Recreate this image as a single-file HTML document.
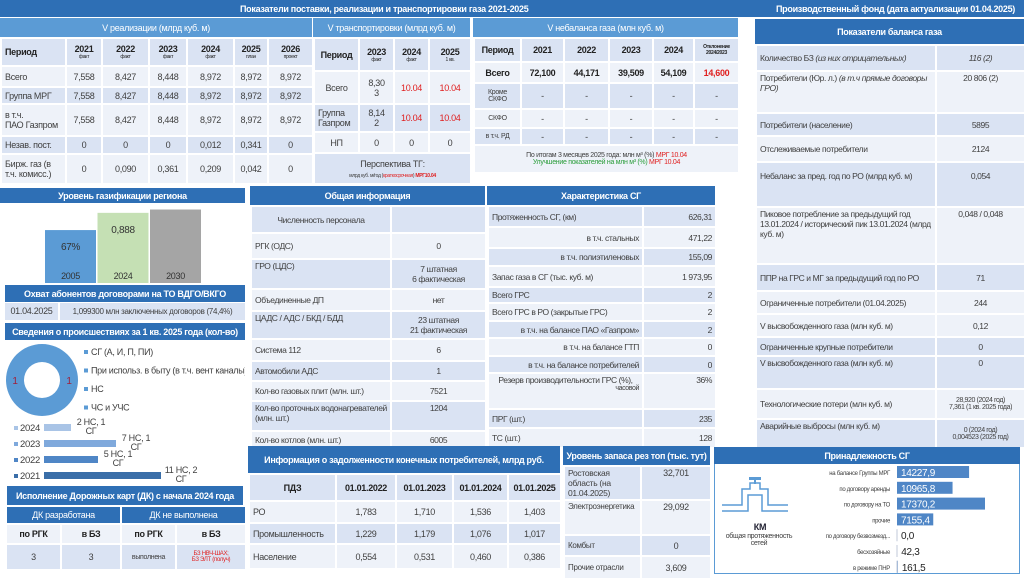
<!DOCTYPE html>
<html><head><meta charset="utf-8">
<style>
*{box-sizing:border-box;margin:0;padding:0}
body{width:1024px;height:574px;overflow:hidden;background:#fff;font-family:"Liberation Sans","Noto Sans CJK SC",sans-serif;font-size:9px;color:#404040;position:relative;letter-spacing:-0.3px}
.abs{position:absolute}
.hd{position:absolute;background:#2e6fb5;color:#fff;text-align:center;font-weight:bold;display:flex;align-items:center;justify-content:center}
.hl{background:#5b9bd5;font-weight:normal}
table{position:absolute;border-collapse:collapse;table-layout:fixed}
td{border:2px solid #fff;padding:1px 3px;vertical-align:middle;text-align:center;overflow:hidden}
.a td{background:#dae3f3}
.b td{background:#eef2f9}
td.l{text-align:left}
td.r{text-align:right}
.red,.bold td.red{color:#e02020}
.grn{color:#2a9d3a}
.bold td{font-weight:bold;color:#222}
small{font-size:5px;display:block;font-weight:normal}
.sm td{font-size:8.5px;letter-spacing:-0.4px}
</style></head><body>

<div class="hd" style="left:0;top:0;width:1024px;height:17px;background:#2e6fb5;justify-content:flex-start">
<span style="position:absolute;left:240px">Показатели поставки, реализации и транспортировки газа 2021-2025</span>
<span style="position:absolute;left:776px">Производственный фонд (дата актуализации  01.04.2025)</span>
</div>

<div class="hd hl" style="left:0;top:18px;width:312px;height:19px">V реализации (млрд куб. м)</div>
<table style="left:0;top:37px;width:312px">
<colgroup><col style="width:65px"><col style="width:36px"><col style="width:47px"><col style="width:38px"><col style="width:47px"><col style="width:34px"><col style="width:45px"></colgroup>
<tr class="a bold" style="height:28px"><td class="l">Период</td><td>2021<small>факт</small></td><td>2022<small>факт</small></td><td>2023<small>факт</small></td><td>2024<small>факт</small></td><td>2025<small>план</small></td><td>2026<small>проект</small></td></tr>
<tr class="b" style="height:21px"><td class="l">Всего</td><td>7,558</td><td>8,427</td><td>8,448</td><td>8,972</td><td>8,972</td><td>8,972</td></tr>
<tr class="a" style="height:17px"><td class="l">Группа МРГ</td><td>7,558</td><td>8,427</td><td>8,448</td><td>8,972</td><td>8,972</td><td>8,972</td></tr>
<tr class="b" style="height:32px"><td class="l">в т.ч.<br>ПАО Газпром</td><td>7,558</td><td>8,427</td><td>8,448</td><td>8,972</td><td>8,972</td><td>8,972</td></tr>
<tr class="a" style="height:18px"><td class="l">Незав. пост.</td><td>0</td><td>0</td><td>0</td><td>0,012</td><td>0,341</td><td>0</td></tr>
<tr class="b" style="height:30px"><td class="l">Бирж. газ (в т.ч. комисс.)</td><td>0</td><td>0,090</td><td>0,361</td><td>0,209</td><td>0,042</td><td>0</td></tr>
</table>

<div class="hd hl" style="left:313px;top:18px;width:157px;height:19px">V транспортировки (млрд куб. м)</div>
<table style="left:313px;top:37px;width:157px">
<colgroup><col style="width:45px"><col style="width:35px"><col style="width:35px"><col style="width:42px"></colgroup>
<tr class="a bold" style="height:33px"><td>Период</td><td>2023<small>факт</small></td><td>2024<small>факт</small></td><td>2025<small>1 кв.</small></td></tr>
<tr class="b" style="height:33px"><td>Всего</td><td>8,30<br>3</td><td class="red">10.04</td><td class="red">10.04</td></tr>
<tr class="a" style="height:28px"><td class="l">Группа Газпром</td><td>8,14<br>2</td><td class="red">10.04</td><td class="red">10.04</td></tr>
<tr class="b" style="height:21px"><td>НП</td><td>0</td><td>0</td><td>0</td></tr>
<tr class="a" style="height:31px"><td colspan="4" style="font-size:9px">Перспектива ТГ:<br><span style="font-size:5px">млрд куб. м/год (<span class="red">краткосрочная</span>) <b class="red">МРГ10.04</b></span></td></tr>
</table>

<div class="hd hl" style="left:473px;top:18px;width:265px;height:19px">V небаланса газа (млн куб. м)</div>
<table style="left:473px;top:37px;width:265px">
<colgroup><col style="width:47px"><col style="width:43px"><col style="width:45px"><col style="width:44px"><col style="width:41px"><col style="width:45px"></colgroup>
<tr class="a bold" style="height:24px"><td>Период</td><td>2021</td><td>2022</td><td>2023</td><td>2024</td><td style="font-size:5px">Отклонение 2024/2023</td></tr>
<tr class="b bold" style="height:21px"><td>Всего</td><td>72,100</td><td>44,171</td><td>39,509</td><td>54,109</td><td class="red">14,600</td></tr>
<tr class="a" style="height:26px"><td style="font-size:7px">Кроме СКФО</td><td>-</td><td>-</td><td>-</td><td>-</td><td>-</td></tr>
<tr class="b" style="height:19px"><td style="font-size:7px">СКФО</td><td>-</td><td>-</td><td>-</td><td>-</td><td>-</td></tr>
<tr class="a" style="height:17px"><td style="font-size:7px">в т.ч. РД</td><td>-</td><td>-</td><td>-</td><td>-</td><td>-</td></tr>
<tr class="b" style="height:28px"><td colspan="6" style="font-size:7px">По итогам 3 месяцев 2025 года: млн м³ (%) <span class="red">МРГ 10.04</span><br><span class="grn">Улучшение показателей на млн м³ (%)</span> <span class="red">МРГ 10.04</span></td></tr>
</table>

<div class="hd" style="left:755px;top:19px;width:269px;height:25px">Показатели баланса газа</div>
<table class="sm" style="left:755px;top:44px;width:269px">
<colgroup><col style="width:180px"><col style="width:89px"></colgroup>
<tr class="a" style="height:26px"><td class="l">Количество БЗ <i>(из них отрицательных)</i></td><td><i>116 (2)</i></td></tr>
<tr class="b" style="height:42px"><td class="l" style="vertical-align:top">Потребители (Юр. л.) <i>(в т.ч прямые договоры ГРО)</i></td><td style="vertical-align:top">20 806 (2)</td></tr>
<tr class="a" style="height:23px"><td class="l">Потребители (население)</td><td>5895</td></tr>
<tr class="b" style="height:26px"><td class="l">Отслеживаемые потребители</td><td>2124</td></tr>
<tr class="a" style="height:45px"><td class="l" style="vertical-align:top;padding-top:8px">Небаланс за пред. год по РО (млрд куб. м)</td><td style="vertical-align:top;padding-top:8px">0,054</td></tr>
<tr class="b" style="height:57px"><td class="l" style="vertical-align:top">Пиковое потребление за предыдущий год 13.01.2024 / исторический пик 13.01.2024 (млрд куб. м)</td><td style="vertical-align:top">0,048 / 0,048</td></tr>
<tr class="a" style="height:27px"><td class="l">ППР на ГРС и МГ за предыдущий год по РО</td><td>71</td></tr>
<tr class="b" style="height:23px"><td class="l">Ограниченные потребители (01.04.2025)</td><td>244</td></tr>
<tr class="b" style="height:23px"><td class="l">V высвобожденного газа (млн куб. м)</td><td>0,12</td></tr>
<tr class="a" style="height:19px"><td class="l">Ограниченные крупные потребители</td><td>0</td></tr>
<tr class="a" style="height:33px"><td class="l" style="vertical-align:top">V высвобожденного газа (млн куб. м)</td><td style="vertical-align:top">0</td></tr>
<tr class="b" style="height:30px"><td class="l">Технологические потери (млн куб. м)</td><td style="font-size:7px">28,920 (2024 год)<br>7,361 (1 кв. 2025 года)</td></tr>
<tr class="a" style="height:29px"><td class="l" style="vertical-align:top">Аварийные выбросы (млн куб. м)</td><td style="font-size:7px">0 (2024 год)<br>0,004523 (2025 год)</td></tr>
</table>

<div class="hd" style="left:0;top:188px;width:245px;height:15px">Уровень газификации региона</div>
<svg id="gas" class="abs" style="left:0;top:203px" width="245" height="82"></svg>
<div class="hd" style="left:5px;top:285px;width:240px;height:17px">Охват абонентов договорами на ТО ВДГО/ВКГО</div>
<div class="abs" style="left:5px;top:303px;width:53px;height:17px;background:#dae3f3;text-align:center;line-height:17px">01.04.2025</div>
<div class="abs" style="left:60px;top:303px;width:185px;height:17px;background:#dae3f3;text-align:center;line-height:17px;font-size:8px">1,099300 млн заключенных договоров (74,4%)</div>
<div class="hd" style="left:5px;top:323px;width:240px;height:17px">Сведения о происшествиях за 1 кв. 2025 года (кол-во)</div>
<svg id="inc" class="abs" style="left:0;top:340px" width="245" height="145"></svg>

<div class="hd" style="left:7px;top:486px;width:236px;height:19px">Исполнение Дорожных карт (ДК) с начала 2024 года</div>
<table style="left:5px;top:505px;width:240px">
<colgroup><col style="width:55px"><col style="width:60px"><col style="width:55px"><col style="width:70px"></colgroup>
<tr style="height:18px"><td colspan="2" style="background:#2e6fb5;color:#fff">ДК разработана</td><td colspan="2" style="background:#2e6fb5;color:#fff">ДК не выполнена</td></tr>
<tr class="b bold" style="height:20px"><td>по РГК</td><td>в БЗ</td><td>по РГК</td><td>в БЗ</td></tr>
<tr class="a" style="height:26px"><td>3</td><td>3</td><td style="font-size:7px">выполнена</td><td class="red" style="font-size:6px">БЗ НВЧ-ШАХ;<br>БЗ ЭЛТ (получ)</td></tr>
</table>

<div class="hd" style="left:250px;top:186px;width:235px;height:19px">Общая информация</div>
<table class="sm" style="left:250px;top:205px;width:235px">
<colgroup><col style="width:140px"><col style="width:95px"></colgroup>
<tr class="a" style="height:27px"><td>Численность персонала</td><td></td></tr>
<tr class="b" style="height:26px"><td class="l">РГК (ОДС)</td><td>0</td></tr>
<tr class="a" style="height:30px"><td class="l" style="vertical-align:top">ГРО (ЦДС)</td><td>7 штатная<br>6 фактическая</td></tr>
<tr class="b" style="height:22px"><td class="l">Объединенные ДП</td><td>нет</td></tr>
<tr class="a" style="height:28px"><td class="l" style="vertical-align:top">ЦАДС / АДС / БКД / БДД</td><td>23 штатная<br>21 фактическая</td></tr>
<tr class="b" style="height:22px"><td class="l">Система 112</td><td>6</td></tr>
<tr class="a" style="height:20px"><td class="l">Автомобили АДС</td><td>1</td></tr>
<tr class="b" style="height:20px"><td class="l">Кол-во газовых плит (млн. шт.)</td><td>7521</td></tr>
<tr class="a" style="height:30px"><td class="l" style="vertical-align:top">Кол-во проточных водонагревателей (млн. шт.)</td><td style="vertical-align:top">1204</td></tr>
<tr class="b" style="height:17px"><td class="l">Кол-во котлов (млн. шт.)</td><td>6005</td></tr>
</table>

<div class="hd" style="left:487px;top:186px;width:228px;height:19px">Характеристика СГ</div>
<table class="sm" style="left:487px;top:205px;width:228px">
<colgroup><col style="width:155px"><col style="width:73px"></colgroup>
<tr class="a" style="height:21px"><td class="l">Протяженность СГ, (км)</td><td class="r">626,31</td></tr>
<tr class="b" style="height:21px"><td class="r">в т.ч. стальных</td><td class="r">471,22</td></tr>
<tr class="a" style="height:18px"><td class="r">в т.ч. полиэтиленовых</td><td class="r">155,09</td></tr>
<tr class="b" style="height:21px"><td class="l">Запас газа в СГ (тыс. куб. м)</td><td class="r">1 973,95</td></tr>
<tr class="a" style="height:16px"><td class="l">Всего ГРС</td><td class="r">2</td></tr>
<tr class="b" style="height:18px"><td class="l">Всего ГРС в РО (закрытые ГРС)</td><td class="r">2</td></tr>
<tr class="a" style="height:17px"><td class="r">в т.ч. на балансе ПАО «Газпром»</td><td class="r">2</td></tr>
<tr class="b" style="height:18px"><td class="r">в т.ч. на балансе ГТП</td><td class="r">0</td></tr>
<tr class="a" style="height:17px"><td class="r">в т.ч. на балансе потребителей</td><td class="r">0</td></tr>
<tr class="b" style="height:36px"><td style="vertical-align:top">Резерв производительности ГРС (%),<br><span style="float:right;font-size:7px">часовой</span></td><td class="r" style="vertical-align:top">36%</td></tr>
<tr class="a" style="height:19px"><td class="l">ПРГ (шт.)</td><td class="r">235</td></tr>
<tr class="b" style="height:20px"><td class="l">ТС  (шт.)</td><td class="r">128</td></tr>
</table>

<div class="hd" style="left:248px;top:446px;width:312px;height:27px">Информация о задолженности конечных потребителей, млрд руб.</div>
<table style="left:248px;top:473px;width:312px">
<colgroup><col style="width:87px"><col style="width:60px"><col style="width:57px"><col style="width:55px"><col style="width:53px"></colgroup>
<tr class="a bold" style="height:27px"><td>ПДЗ</td><td>01.01.2022</td><td>01.01.2023</td><td>01.01.2024</td><td>01.01.2025</td></tr>
<tr class="b" style="height:22px"><td class="l">РО</td><td>1,783</td><td>1,710</td><td>1,536</td><td>1,403</td></tr>
<tr class="a" style="height:21px"><td class="l">Промышленность</td><td>1,229</td><td>1,179</td><td>1,076</td><td>1,017</td></tr>
<tr class="b" style="height:25px"><td class="l">Население</td><td>0,554</td><td>0,531</td><td>0,460</td><td>0,386</td></tr>
</table>

<div class="hd" style="left:563px;top:446px;width:147px;height:19px">Уровень запаса рез топ (тыс. тут)</div>
<table style="left:563px;top:465px;width:147px">
<colgroup><col style="width:77px"><col style="width:70px"></colgroup>
<tr class="a" style="height:30px"><td class="l" style="vertical-align:top;font-size:8.5px">Ростовская область (на 01.04.2025)</td><td style="vertical-align:top">32,701</td></tr>
<tr class="b" style="height:35px"><td class="l" style="vertical-align:top;font-size:8px">Электроэнергетика</td><td style="vertical-align:top">29,092</td></tr>
<tr class="a" style="height:21px"><td class="l" style="font-size:8px">Комбыт</td><td>0</td></tr>
<tr class="b" style="height:23px"><td class="l" style="font-size:8px">Прочие отрасли</td><td>3,609</td></tr>
</table>

<div class="hd" style="left:714px;top:447px;width:306px;height:17px">Принадлежность СГ</div>
<div class="abs" style="left:714px;top:464px;width:306px;height:110px;border:1px solid #5b9bd5;border-top:none"></div>
<svg class="abs" style="left:720px;top:475px" width="70" height="40">
<path d="M2 30 H22 V14 H30 V8 H40 V14 H48 V30 H68 M2 36 H28 V20 H42 V36 H68" fill="none" stroke="#5b9bd5" stroke-width="1.5"/>
<rect x="29" y="2" width="12" height="3" fill="#5b9bd5"/><rect x="34" y="4" width="2" height="5" fill="#5b9bd5"/>
</svg>
<div class="abs" style="left:725px;top:522px;width:70px;text-align:center;font-weight:bold;color:#223">КМ</div>
<div class="abs" style="left:718px;top:533px;width:82px;text-align:center;font-size:7px">общая протяженность сетей</div>
<svg id="own" class="abs" style="left:790px;top:464px" width="230" height="110"></svg>

<script>
const NS='http://www.w3.org/2000/svg';
function mk(svg,tag,attrs,txt){const e=document.createElementNS(NS,tag);for(const k in attrs)e.setAttribute(k,attrs[k]);if(txt!==undefined)e.textContent=txt;svg.appendChild(e);return e;}

const gasYears=['2005','2024','2030'];
const gasHeights=[67,88.8,93];
const gasLabels=['67%','0,888',''];
const gasColors=['#5b9bd5','#c5e0b4','#a5a5a5'];
(function(){const s=document.getElementById('gas');const base=80,scale=0.79;
gasYears.forEach((y,i)=>{const x=45+i*52.5,h=gasHeights[i]*scale;
const r=mk(s,'rect',{x:x,y:base-h,width:51,height:h,fill:gasColors[i]});


mk(s,'text',{x:x+25.5,y:base-4,'text-anchor':'middle','font-size':'9','fill':'#333'},y);
if(gasLabels[i])mk(s,'text',{x:x+25.5,y:base-h+20,'text-anchor':'middle','font-size':'10','fill':'#333'},gasLabels[i]);});})();

const donutVals=[1,1];
const legendItems=['СГ (А, И, П, ПИ)','При использ. в быту (в т.ч. вент каналы)','НС','ЧС и УЧС'];
const incYears=['2024','2023','2022','2021'];
const incTotals=[3,8,6,13];
const incLabels=[['2 НС, 1','СГ'],['7 НС, 1','СГ'],['5 НС, 1','СГ'],['11 НС, 2','СГ']];
const incColors=['#a9c4e6','#7fa9dc','#4f86c6','#3a6ea8'];
(function(){const s=document.getElementById('inc');const cx=42,cy=40,R=36,r=18;
const tot=donutVals.reduce((a,b)=>a+b,0);let a0=-Math.PI/2;
donutVals.forEach((v,i)=>{const a1=a0+v/tot*2*Math.PI;const mid=(a0+a1)/2;
const p=mk(s,'path',{d:`M${cx+R*Math.cos(a0)} ${cy+R*Math.sin(a0)} A${R} ${R} 0 ${a1-a0>Math.PI?1:0} 1 ${cx+R*Math.cos(a1)} ${cy+R*Math.sin(a1)} L${cx+r*Math.cos(a1)} ${cy+r*Math.sin(a1)} A${r} ${r} 0 ${a1-a0>Math.PI?1:0} 0 ${cx+r*Math.cos(a0)} ${cy+r*Math.sin(a0)}Z`,fill:'#5b9bd5'});


mk(s,'text',{x:cx+27*Math.cos(mid),y:cy+27*Math.sin(mid)+4,'text-anchor':'middle','font-size':'10','fill':'#a0203a'},v);a0=a1;});
legendItems.forEach((t,i)=>{const y=15+i*18.5;mk(s,'rect',{x:84,y:y-5,width:4,height:4,fill:'#5b9bd5'});mk(s,'text',{x:91,y:y,'font-size':'9','fill':'#404040'},t);});
const x0=44,k=9;
incYears.forEach((yr,i)=>{const y=87+i*16;
mk(s,'rect',{x:14,y:y-1,width:4,height:4,fill:incColors[i]});
mk(s,'text',{x:20,y:y+4,'font-size':'9.5','fill':'#404040'},yr);
const b=mk(s,'rect',{x:x0,y:y-3,width:incTotals[i]*k,height:7,fill:incColors[i]});


const lx=x0+incTotals[i]*k+20;
mk(s,'text',{x:lx,y:y-2,'text-anchor':'middle','font-size':'9','fill':'#404040'},incLabels[i][0]);
mk(s,'text',{x:lx,y:y+7,'text-anchor':'middle','font-size':'9','fill':'#404040'},incLabels[i][1]);});})();

const ownCats=['на балансе Группы МРГ','по договору аренды','по договору на ТО','прочие','по договору безвозмезд...','бесхозяйные','в режиме ПНР'];
const ownVals=[14227.9,10965.8,17370.2,7155.4,0.0,42.3,161.5];
const ownLabels=['14227,9','10965,8','17370,2','7155,4','0,0','42,3','161,5'];
(function(){const s=document.getElementById('own');const x0=107,k=88/17370.2;
ownCats.forEach((c,i)=>{const y=8+i*15.8;
mk(s,'text',{x:100,y:y+3,'text-anchor':'end','font-size':'6','fill':'#404040'},c);
const w=ownVals[i]*k;
const b=mk(s,'rect',{x:x0,y:y-6,width:w,height:12,fill:'#4f86c6'});


if(w>30)mk(s,'text',{x:x0+4,y:y+4,'font-size':'10','fill':'#fff'},ownLabels[i]);
else{mk(s,'line',{x1:x0,x2:x0,y1:y-6,y2:y+6,stroke:'#c0c8d8'});mk(s,'text',{x:x0+w+4,y:y+4,'font-size':'10','fill':'#222'},ownLabels[i]);}});})();
</script>
</body></html>
